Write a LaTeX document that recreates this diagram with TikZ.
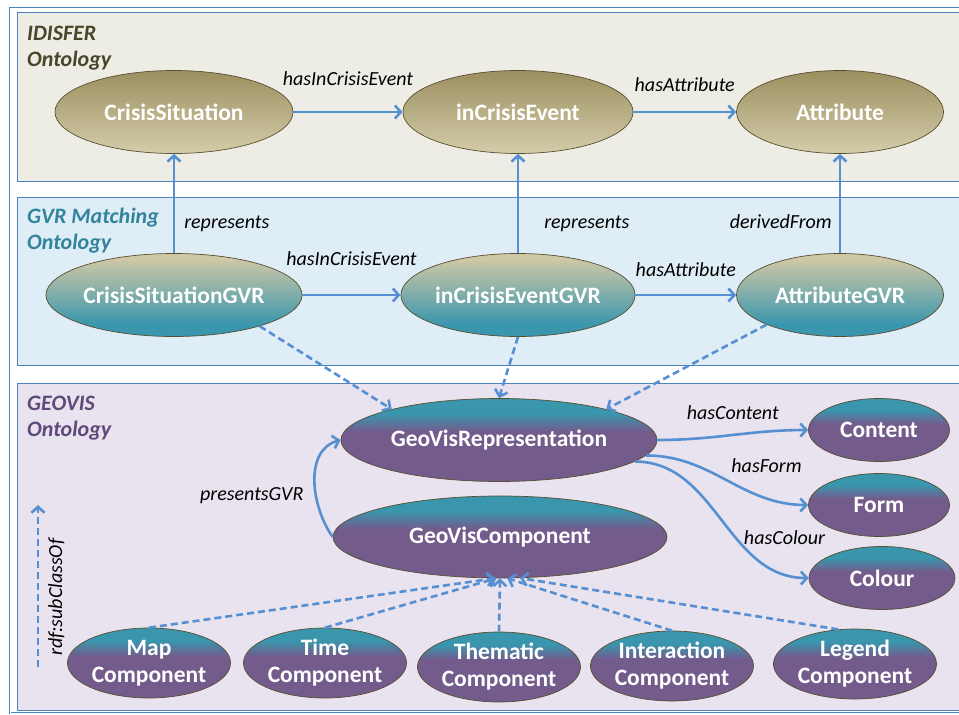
\documentclass[tikz,border=0pt]{standalone}
\usepackage{fontspec}
\setmainfont{Carlito}
\usepackage{tikz}
\usetikzlibrary{arrows.meta, positioning, shapes.geometric}
\usepackage{xcolor}
\definecolor{panelline}{RGB}{79,129,189}
\definecolor{arrowblue}{RGB}{86,144,210}
\definecolor{idisferbg}{RGB}{238,237,229}
\definecolor{gvrbg}{RGB}{223,237,246}
\definecolor{geovisbg}{RGB}{232,227,238}
\definecolor{olivedark}{RGB}{156,143,96}
\definecolor{olivelight}{RGB}{212,205,170}
\definecolor{beigenode}{RGB}{207,200,166}
\definecolor{tealnode}{RGB}{57,150,173}
\definecolor{purplenode}{RGB}{115,91,140}
\definecolor{nodeborder}{RGB}{88,78,48}
\definecolor{idisfertext}{RGB}{74,68,40}
\definecolor{gvrtext}{RGB}{49,132,155}
\definecolor{geovistext}{RGB}{95,73,122}
\pgfdeclareverticalshading{idisfershade}{100bp}{color(0bp)=(olivelight); color(25bp)=(olivelight); color(75bp)=(olivedark); color(100bp)=(olivedark)}
\pgfdeclareverticalshading{gvrshade}{100bp}{color(0bp)=(tealnode); color(32bp)=(tealnode); color(72bp)=(beigenode); color(100bp)=(beigenode)}
\pgfdeclareverticalshading{geovisshade}{100bp}{color(0bp)=(purplenode); color(55bp)=(purplenode); color(66bp)=(tealnode); color(100bp)=(tealnode)}
\tikzset{%
	onto node/.style={
		ellipse,
		draw=nodeborder,
		line width=0.7pt,
		inner sep=0pt,
		minimum height=83pt,
		text=white,
		align=center,
		font=\bfseries\fontsize{23.5}{27}\selectfont
	},
	idisfer node/.style={onto node, shading=idisfershade},
	gvr node/.style={onto node, shading=gvrshade},
	geovis node/.style={onto node, shading=geovisshade},
	part node/.style={geovis node, minimum width=163pt, minimum height=70pt},
	relation/.style={
		draw=arrowblue,
		line width=2.6pt,
		-{Straight Barb[length=6pt,width=13pt]}
	},
	subclass/.style={relation, dash pattern=on 7pt off 4pt},
	rel label/.style={
		inner sep=0pt,
		font=\itshape\fontsize{20}{23}\selectfont
	},
	panel/.style={draw=panelline, line width=1pt},
	panel title/.style={
		anchor=north west,
		inner sep=0pt,
		align=left,
		font=\bfseries\itshape\fontsize{22}{26}\selectfont
	},
}
\begin{document}
\begin{tikzpicture}[x=1pt, y=-1pt]
			\useasboundingbox (0,0) rectangle (959,715);
			\clip (0,0) rectangle (959,715);
			
			% Outer frame and ontology panels
			\draw[panelline, line width=0.7pt, double=white, double distance=1pt] (10,8) rectangle (975,713);
			\draw[panel, fill=idisferbg] (17,12) rectangle (970,181);
			\draw[panel, fill=gvrbg] (17,197) rectangle (970,365);
			\draw[panel, fill=geovisbg] (17,383) rectangle (970,710);
			
			% Panel titles
			\node[panel title, text=idisfertext] (idisfertitle) at (27,26) {IDISFER\\Ontology};
			\node[panel title, text=gvrtext] (gvrtitle) at (27,208) {GVR Matching\\Ontology};
			\node[panel title, text=geovistext] (geovistitle) at (27,396) {GEOVIS\\Ontology};
			
			% IDISFER classes
			\node[idisfer node, minimum width=238pt] (crisis) at (174,112) {CrisisSituation};
			\node[idisfer node, minimum width=230pt] (ince) at (518,112) {inCrisisEvent};
			\node[idisfer node, minimum width=207pt] (attr) at (840,112) {Attribute};
			
			% GVR matching classes
			\node[gvr node, minimum width=238pt] (crisisgvr) at (174,295) {CrisisSituationGVR};
			\node[gvr node, minimum width=230pt] (incegvr) at (518,295) {inCrisisEventGVR};
			\node[gvr node, minimum width=207pt] (attrgvr) at (840,295) {AttributeGVR};
			
			% GEOVIS classes
			\node[geovis node, minimum width=316pt] (gvrep) at (499,440) {GeoVisRepresentation};
			\node[geovis node, minimum width=334pt, minimum height=82pt] (gvcomp) at (500,537) {GeoVisComponent};
			\node[geovis node, minimum width=141pt, minimum height=63pt] (content) at (879,430) {Content};
			\node[geovis node, minimum width=141pt, minimum height=63pt] (form) at (879,505) {Form};
			\node[geovis node, minimum width=146pt, minimum height=63pt] (colour) at (882,578) {Colour};
			
			% Component subclasses
			\node[part node] (mapc) at (149,663) {Map\\Component};
			\node[part node] (timec) at (325,663) {Time\\Component};
			\node[part node] (themc) at (499,667) {Thematic\\Component};
			\node[part node] (interc) at (672,666) {Interaction\\Component};
			\node[part node] (legendc) at (855,664) {Legend\\Component};
			
			% Relations inside IDISFER and GVR
			\draw[relation] (crisis) -- node[rel label, above=25pt] {hasInCrisisEvent} (ince);
			\draw[relation] (ince) -- node[rel label, above=19pt] {hasAttribute} (attr);
			\draw[relation] (crisisgvr) -- node[rel label, above=28pt] {hasInCrisisEvent} (incegvr);
			\draw[relation] (incegvr) -- node[rel label, above=17pt] {hasAttribute} (attrgvr);
			
			% Links up to IDISFER
			\draw[relation] (crisisgvr) -- node[rel label, pos=0.25, anchor=base west, xshift=9pt] {represents} (crisis);
			\draw[relation] (incegvr) -- node[rel label, pos=0.25, anchor=base west, xshift=25pt] {represents} (ince);
			\draw[relation] (attrgvr) -- node[rel label, pos=0.25, anchor=base east, xshift=-7pt] {derivedFrom} (attr);
			
			% Links down to GEOVIS
			\draw[subclass] (crisisgvr.-20) -- (gvrep.164);
			\draw[subclass] (incegvr.south) -- (gvrep.north);
			\draw[subclass] (attrgvr.-158) -- (gvrep.16);
			
			% GEOVIS relations
			\draw[relation] (gvcomp.west) to[out=125, in=195] node[rel label, anchor=base east, xshift=-10pt, yshift=-20pt] {presentsGVR} (gvrep.west);
			\draw[relation] (gvrep.east) to[out=0, in=180] node[rel label, anchor=base, yshift=16pt] {hasContent} (content.west);
			\draw[relation] (gvrep.-6) to[out=0, in=180] node[rel label, anchor=base west, xshift=3pt, yshift=8pt] {hasForm} (form.west);
			\draw[relation] (gvrep.-9) to[out=0, in=180] node[rel label, pos=0.6, anchor=base west, xshift=7pt, yshift=-7pt] {hasColour} (colour.west);
			
			% Subclass links
			\draw[subclass] (mapc.north) -- (gvcomp.-97);
			\draw[subclass] (timec.north) -- (gvcomp.-95);
			\draw[subclass] (themc.north) -- (gvcomp.south);
			\draw[subclass] (interc.north) -- (gvcomp.-80);
			\draw[subclass] (legendc.116) -- (gvcomp.-64);
			
			% Legend arrow for rdf:subClassOf
			\coordinate (subbot) at (38,667);
			\coordinate (subtop) at (38,505);
			\draw[subclass] (subbot) -- node[rel label, pos=0.43, xshift=9pt, rotate=90, anchor=north] {rdf:subClassOf} (subtop);
		\end{tikzpicture}
\end{document}
